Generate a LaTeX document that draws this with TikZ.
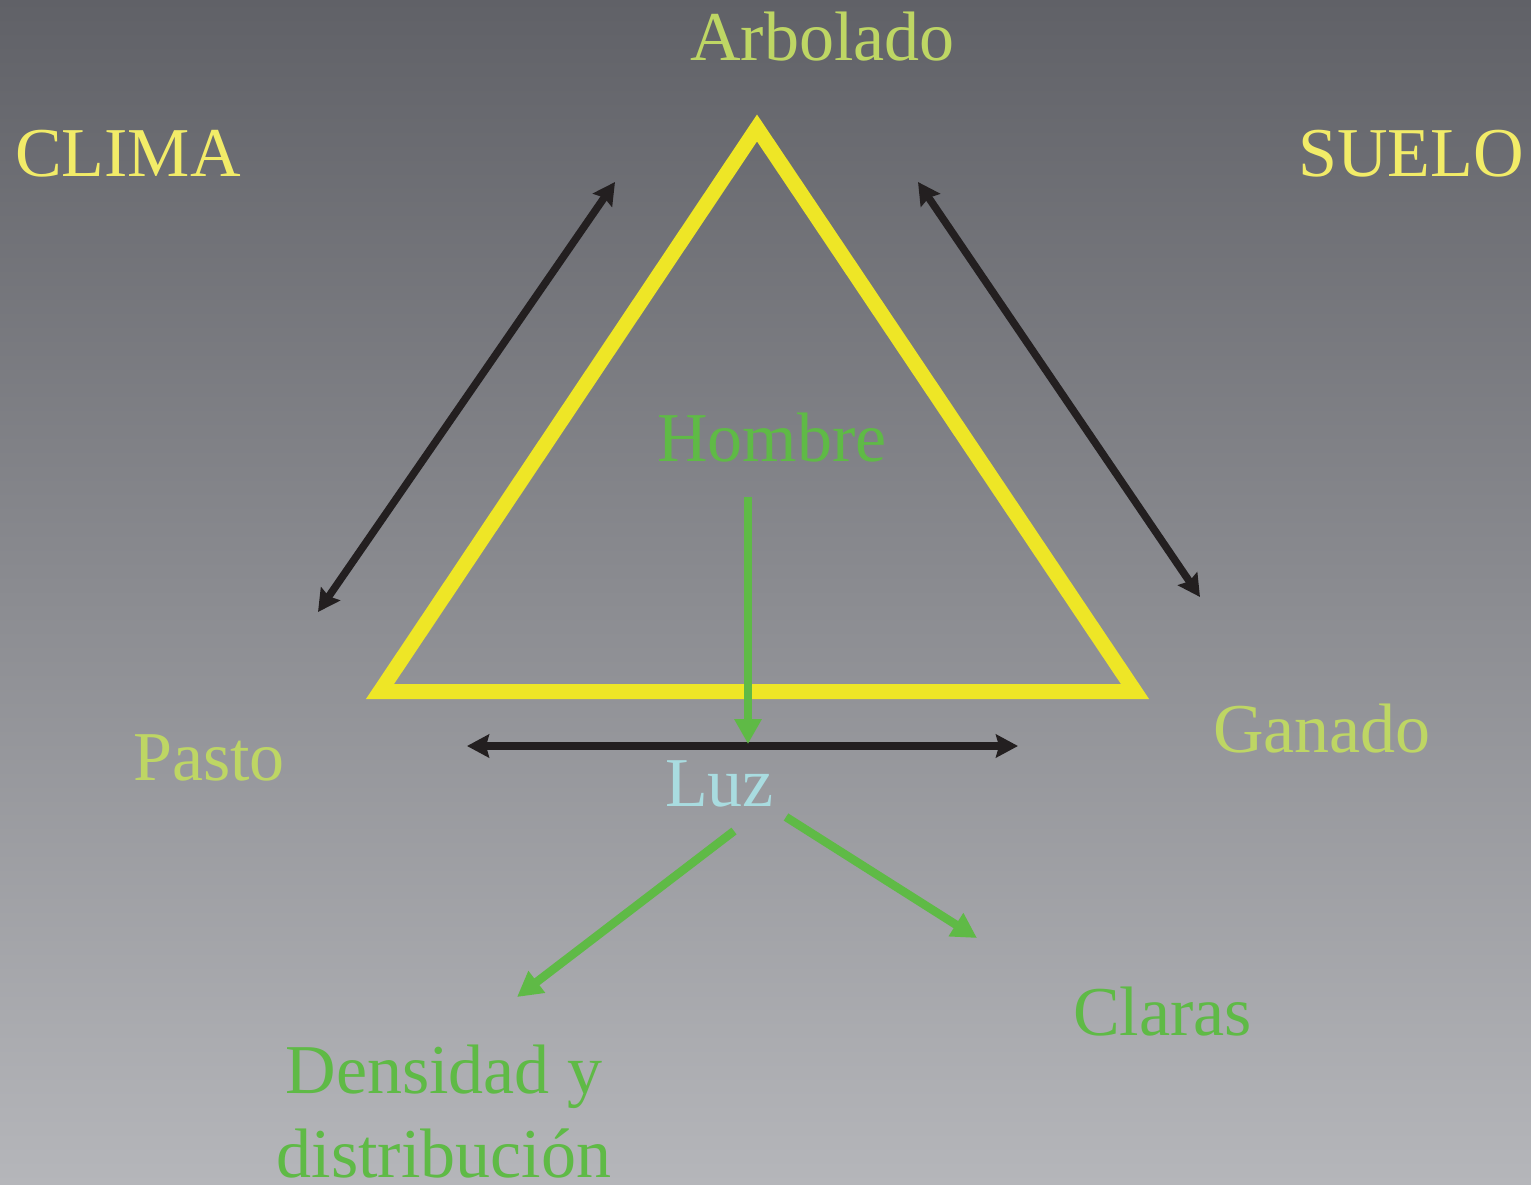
\documentclass[tikz,border=0pt]{standalone}
\usepackage{fontspec}
\setmainfont{Liberation Serif}
\usetikzlibrary{arrows.meta}
\definecolor{bgtop}{HTML}{606167}
\definecolor{bgbot}{HTML}{B5B6BA}
\definecolor{lgreen}{HTML}{BED664}
\definecolor{ylw}{HTML}{F2EC68}
\definecolor{grn}{HTML}{5FBA46}
\definecolor{cyn}{HTML}{A9DCE0}
\definecolor{tri}{HTML}{EEE626}
\definecolor{blk}{HTML}{231F20}
\tikzset{
  lbl/.style={inner sep=0pt, anchor=base west, font=\fontsize{70}{84}\selectfont},
  blkarrow/.style={draw=blk, line width=7.5pt, {Stealth[length=22pt,width=23pt,inset=3pt]}-{Stealth[length=22pt,width=23pt,inset=3pt]}},
  grnarrow/.style={draw=grn, line width=8.5pt, -{Triangle[length=25pt,width=26pt]}},
}
\begin{document}
\begin{tikzpicture}[x=1pt,y=-1pt]
\useasboundingbox (0,0) rectangle (1531,1184);
\shade[top color=bgtop, bottom color=bgbot] (0,0) rectangle (1531,1184);
% triangle
\draw[tri, line width=15pt, miter limit=10] (757,128) -- (1135,691.5) -- (380,691.5) -- cycle;
% labels
\node[lbl, text=lgreen] (arb) at (690,60) {Arbolado};
\node[lbl, text=ylw] (clima) at (15,176) {CLIMA};
\node[lbl, text=ylw] (suelo) at (1298,176) {SUELO};
\node[lbl, text=grn] (hombre) at (657,461) {Hombre};
\node[lbl, text=lgreen] (pasto) at (133,780) {Pasto};
\node[lbl, text=lgreen] (ganado) at (1213,752) {Ganado};
\node[lbl, text=cyn] (luz) at (665,806) {Luz};
\node[lbl, text=grn] (claras) at (1073,1035) {Claras};
\node[inner sep=0pt, anchor=base, text=grn, font=\fontsize{70}{84}\selectfont, align=center] (dens) at (444,1177) {Densidad y\\distribución};
% arrow end points
\coordinate (l1) at (615,182); \coordinate (l2) at (318,612);
\coordinate (r1) at (918,182); \coordinate (r2) at (1200,597);
\coordinate (h1) at (467,746); \coordinate (h2) at (1018,746);
\coordinate (v1) at (748,497); \coordinate (v2) at (748,744);
\coordinate (gl1) at (734,831); \coordinate (gl2) at (517,997);
\coordinate (gr1) at (786,817); \coordinate (gr2) at (977,938);
\draw[blkarrow] (l1) -- (l2);
\draw[blkarrow] (r1) -- (r2);
\draw[blkarrow] (h1) -- (h2);
\draw[grnarrow] (v1) -- (v2);
\draw[grnarrow] (gl1) -- (gl2);
\draw[grnarrow] (gr1) -- (gr2);
\end{tikzpicture}
\end{document}
